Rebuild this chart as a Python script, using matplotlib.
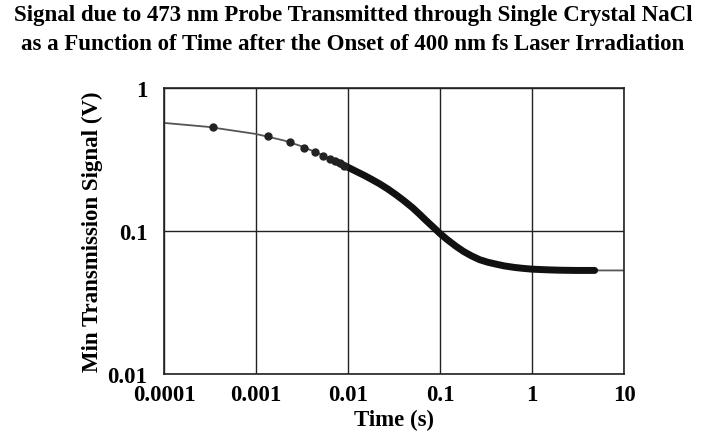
import numpy as np
import matplotlib.pyplot as plt

# Sparse early data points (time in s, signal in V)
dot_t = [0.00034, 0.00135, 0.00235, 0.00335, 0.00435, 0.00535, 0.00635, 0.0073, 0.0082, 0.0091]
dot_v = [0.533, 0.46, 0.417, 0.38, 0.359, 0.336, 0.32, 0.308, 0.297, 0.287]

# Dense data region (points overlap into a thick trace)
dense_t = [0.0073, 0.0085, 0.01, 0.012, 0.015, 0.018, 0.022, 0.027, 0.033, 0.04,
           0.05, 0.06, 0.07, 0.085, 0.1, 0.12, 0.15, 0.18, 0.22, 0.27,
           0.33, 0.4, 0.5, 0.65, 0.8, 1.0, 1.5, 2.0, 3.0, 4.0, 4.8]
dense_v = [0.308, 0.293, 0.279, 0.263, 0.245, 0.23, 0.214, 0.197, 0.18, 0.164,
           0.146, 0.131, 0.119, 0.106, 0.096, 0.087, 0.078, 0.072, 0.067, 0.063,
           0.0605, 0.0588, 0.057, 0.0556, 0.0548, 0.0541, 0.0535, 0.0532, 0.053, 0.053, 0.053]

# Fitted curve
fit_t = [0.0001, 0.0003, 0.001, 0.002, 0.003, 0.005, 0.007, 0.01, 0.015, 0.022,
         0.033, 0.05, 0.07, 0.1, 0.15, 0.22, 0.33, 0.5, 1.0, 2.0, 5.0, 10.0]
fit_v = [0.57, 0.535, 0.477, 0.43, 0.395, 0.345, 0.31, 0.279, 0.245, 0.214,
         0.18, 0.146, 0.119, 0.096, 0.078, 0.067, 0.0605, 0.057, 0.0541, 0.0532, 0.053, 0.053]

xticks = [0.0001, 0.001, 0.01, 0.1, 1, 10]
xlabels = ["0.0001", "0.001", "0.01", "0.1", "1", "10"]
yticks = [0.01, 0.1, 1]
ylabels = ["0.01", "0.1", "1"]

plt.rcParams["font.family"] = ["Liberation Serif", "DejaVu Serif"]
plt.rcParams["font.weight"] = "bold"

fig = plt.figure(figsize=(7.02, 4.35), dpi=100)
ax = fig.add_axes([0.2336, 0.1379, 0.6553, 0.6575])

ax.plot(fit_t, fit_v, color="#555555", lw=1.3, zorder=2)
ax.plot(dense_t, dense_v, color="#111111", lw=5, solid_capstyle="round",
        solid_joinstyle="round", zorder=3)
ax.plot(dot_t, dot_v, "o", color="#222222", ms=5, zorder=4)

ax.set_xscale("log")
ax.set_yscale("log")
ax.set_xlim(0.0001, 10)
ax.set_ylim(0.01, 1)
ax.set_xticks(xticks)
ax.set_xticklabels(xlabels)
ax.set_yticks(yticks)
ax.set_yticklabels(ylabels)
ax.minorticks_off()
ax.tick_params(axis="x", length=0, labelsize=16.5, pad=7)
ax.tick_params(axis="y", length=0, labelsize=16.5, pad=12)
ax.grid(True, which="major", color="#222222", lw=1)
for s in ax.spines.values():
    s.set_color("#222222")
    s.set_linewidth(1.2)

ax.set_xlabel("Time (s)", fontsize=16.5, fontweight="bold", labelpad=3)
ax.set_ylabel("Min Transmission Signal (V)", fontsize=16.5, fontweight="bold", labelpad=3)

fig.text(0.503, 0.965, "Signal due to 473 nm Probe Transmitted through Single Crystal NaCl",
         ha="center", va="center", fontsize=16.5, fontweight="bold")
fig.text(0.503, 0.898, "as a Function of Time after the Onset of 400 nm fs Laser Irradiation",
         ha="center", va="center", fontsize=16.5, fontweight="bold")

fig.savefig("out.png", dpi=100)
